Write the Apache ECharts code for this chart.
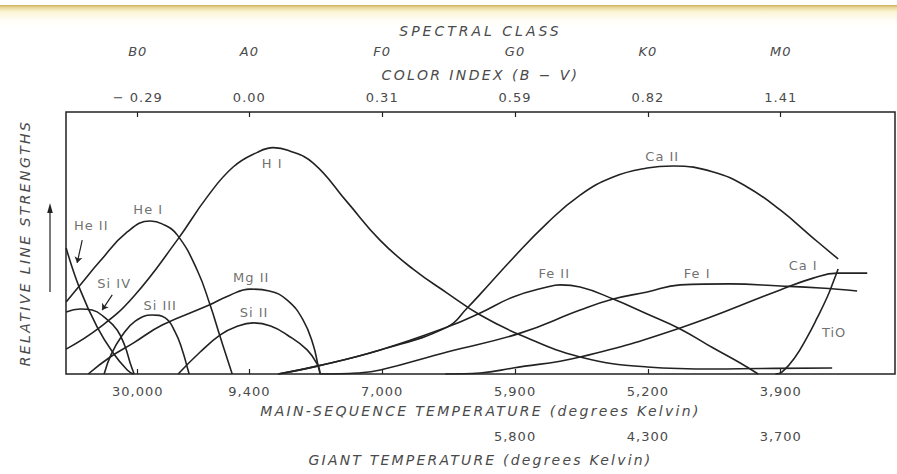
<!DOCTYPE html>
<html>
<head>
<meta charset="utf-8">
<script src="https://cdn.jsdelivr.net/npm/echarts@6/dist/echarts.min.js"></script>
<style>
  html, body { margin: 0; padding: 0; background: #fff; }
  #main { width: 897px; height: 474px; }
</style>
</head>
<body>
<div id="main"></div>
<script>
// Positions of the reference classes along the spectral sequence
const classPos = [11.6, 20, 30, 40, 50, 60];
const spectralClasses = ['B0', 'A0', 'F0', 'G0', 'K0', 'M0'];
const colorIndex = ['\u2212 0.29', '0.00', '0.31', '0.59', '0.82', '1.41'];
const mainSeqTemps = ['30,000', '9,400', '7,000', '5,900', '5,200', '3,900'];
const giantTemps = [null, null, null, '5,800', '4,300', '3,700'];

// Relative line strengths: [sequence position, strength]
const heII = [[6.21,48.1],[7.27,32.1],[8.55,17.9],[9.75,8.0],[10.81,1.5],[11.26,0]];
const heI = [[6.21,27.5],[7.27,34.0],[8.77,43.1],[10.81,54.2],[12.54,58.4],[13.44,57.3],[14.57,53.1],[16.07,39.7],[17.05,26.3],[17.81,14.1],[18.71,0]];
const hI = [[6.21,9.5],[8.77,17.9],[11.26,29.4],[14.57,51.1],[16.83,67.6],[18.78,79.0],[20.6,84.6],[21.8,86.4],[22.9,85.4],[24.81,80.5],[27.37,65.6],[29.85,51.0],[32.33,40.0],[34.89,30.9],[37.38,22.5],[40.39,14.9],[44.90,6.5],[49.95,2.7],[54.92,1.9],[58.45,2.1],[63.87,2.3]];
const siIV = [[6.21,23.7],[7.27,24.8],[8.17,24.4],[9.15,21.4],[10.05,16.8],[10.66,10.3],[11.03,4.2],[11.33,0]];
const siIII = [[9.07,0],[9.6,7.5],[10.4,14.5],[11.41,20.2],[12.69,22.5],[13.67,21.4],[14.42,16.0],[14.95,9.2],[15.32,2.7],[15.47,0]];
const mgII = [[7.87,0],[9.53,6.5],[11.26,11.8],[13.44,18.7],[16.98,26.3],[18.5,30.0],[20.06,32.4],[21.5,31.7],[22.85,28.2],[24.05,20.6],[24.81,11.1],[25.18,3.1],[25.33,0]];
const siII = [[14.64,0],[16.30,8.4],[17.81,14.9],[19.0,18.0],[20.29,19.5],[21.6,18.3],[22.85,14.9],[24.35,9.2],[25.18,3.1],[25.33,0]];
const caII = [[22.17,0],[25.18,3.1],[29.85,9.2],[34.89,17.9],[36.40,25.2],[37.38,30.5],[39.86,44.3],[42.42,57.6],[44.90,68.3],[47.39,75.2],[49.95,78.6],[51.90,79.4],[54.92,77.1],[57.47,71.4],[59.96,62.6],[62.44,51.9],[64.32,43.9]];
const feII = [[22.17,0],[25.18,3.1],[29.85,9.2],[34.89,17.9],[37.38,23.3],[39.86,29.4],[42.42,33.2],[43.40,34.0],[44.90,33.2],[47.39,28.6],[49.95,22.9],[52.43,17.2],[54.92,9.9],[56.95,4.2],[58.30,0]];
const feI = [[25.33,0],[28.12,0.4],[29.85,1.5],[34.89,8.4],[40.39,15.6],[44.90,24.4],[47.39,28.6],[49.95,31.3],[52.43,34.0],[56.19,34.4],[59.96,33.6],[62.97,32.8],[65.75,31.7]];
const caI = [[34.74,0],[37.38,0.4],[39.86,2.3],[44.90,6.5],[52.43,17.6],[59.96,32.1],[62.44,36.6],[64.25,38.5],[66.51,38.5]];
const tiO = [[59.6,0],[60.11,0.8],[61.09,6.5],[61.99,14.1],[62.74,21.4],[63.50,29.4],[63.95,35.1],[64.32,40.1]];

const curves = [
  ['He II', heII], ['He I', heI], ['H I', hI], ['Si IV', siIV], ['Si III', siIII],
  ['Mg II', mgII], ['Si II', siII], ['Ca II', caII], ['Fe II', feII],
  ['Fe I', feI], ['Ca I', caI], ['TiO', tiO]
];

// Where each curve's name is written, in axis units
const curveTags = [
  ['He II', 8.1, 56.5], ['He I', 12.39, 62.6], ['H I', 21.72, 80.5],
  ['Si IV', 9.83, 34.7], ['Si III', 13.29, 26.0], ['Mg II', 20.14, 37.0],
  ['Si II', 20.36, 23.3], ['Fe II', 42.95, 38.5], ['Ca II', 51.08, 83.2],
  ['Fe I', 53.71, 38.2], ['Ca I', 61.69, 41.6], ['TiO', 64.02, 16.0]
];
// Short pointers from a tag to its curve
const pointers = [
  [[7.42, 51.1], [7.04, 42.4]],
  [[9.68, 30.2], [8.92, 24.4]]
];

const INK = '#222222';
const TEXT = '#4a4a4a';
const FONT = 'DejaVu Sans';
const X_MIN = 6.2, X_MAX = 68.6;

function pick(labels) {
  return v => {
    const i = classPos.indexOf(v);
    return i >= 0 && labels[i] != null ? labels[i] : '';
  };
}

function xAxisRow(opts) {
  const vals = classPos.filter((v, i) => opts.labels[i] != null);
  return {
    type: 'value',
    min: X_MIN,
    max: X_MAX,
    position: opts.position,
    offset: opts.offset,
    axisLine: { show: false },
    splitLine: { show: false },
    axisTick: {
      show: !!opts.ticks,
      inside: true,
      length: 5,
      customValues: vals,
      lineStyle: { color: INK, width: 1.2 }
    },
    axisLabel: {
      customValues: vals,
      formatter: pick(opts.labels),
      margin: opts.margin,
      color: TEXT,
      fontFamily: FONT,
      fontSize: 13,
      fontStyle: opts.italic ? 'italic' : 'normal'
    },
    name: opts.name,
    nameLocation: 'middle',
    nameGap: opts.nameGap,
    nameTextStyle: {
      color: TEXT,
      fontFamily: FONT,
      fontSize: 14,
      fontStyle: 'italic'
    }
  };
}

const chart = echarts.init(document.getElementById('main'), null, { renderer: 'svg' });

const lineSeries = curves.map(([name, data]) => ({
  name: name,
  type: 'line',
  data: data,
  smooth: 0.45,
  showSymbol: false,
  silent: true,
  clip: true,
  lineStyle: { color: INK, width: 1.6 },
  z: 3
}));

chart.setOption({
  animation: false,
  backgroundColor: '#ffffff',
  grid: {
    left: 66, right: 2, top: 112, bottom: 100,
    show: true,
    borderColor: INK,
    borderWidth: 1.5,
    backgroundColor: 'transparent'
  },
  xAxis: [
    xAxisRow({ position: 'bottom', offset: 0, labels: mainSeqTemps, margin: 11, ticks: true,
      name: 'MAIN-SEQUENCE TEMPERATURE (degrees Kelvin)', nameGap: 30 }),
    xAxisRow({ position: 'bottom', offset: 45, labels: giantTemps, margin: 11,
      name: 'GIANT TEMPERATURE (degrees Kelvin)', nameGap: 34 }),
    xAxisRow({ position: 'top', offset: 0, labels: colorIndex, margin: 8, ticks: true,
      name: 'COLOR INDEX (B \u2212 V)', nameGap: 30 }),
    xAxisRow({ position: 'top', offset: 46, labels: spectralClasses, margin: 8, italic: true,
      name: 'SPECTRAL CLASS', nameGap: 28 })
  ],
  yAxis: {
    type: 'value',
    min: 0,
    max: 100,
    axisLine: { show: false },
    axisTick: { show: false },
    axisLabel: { show: false },
    splitLine: { show: false },
    name: 'RELATIVE LINE STRENGTHS',
    nameLocation: 'middle',
    nameGap: 34,
    nameTextStyle: { color: TEXT, fontFamily: FONT, fontSize: 14, fontStyle: 'italic' }
  },
  series: lineSeries.concat([
    {
      type: 'scatter',
      symbolSize: 0,
      silent: true,
      data: curveTags.map(([n, x, y]) => ({ name: n, value: [x, y] })),
      label: {
        show: true,
        position: 'inside',
        formatter: '{b}',
        color: TEXT,
        fontFamily: FONT,
        fontSize: 13
      },
      z: 4
    },
    {
      type: 'lines',
      coordinateSystem: 'cartesian2d',
      silent: true,
      symbol: ['none', 'arrow'],
      symbolSize: 6,
      lineStyle: { color: INK, width: 1.2, opacity: 1 },
      data: pointers.map(p => ({ coords: p })),
      z: 4
    }
  ]),
  graphic: [
    {
      type: 'rect',
      silent: true,
      shape: { x: 0, y: 5, width: 897, height: 22 },
      style: {
        fill: new echarts.graphic.LinearGradient(0, 0, 0, 1, [
          { offset: 0, color: '#c9ad58' },
          { offset: 0.1, color: '#e8d594' },
          { offset: 0.3, color: '#fbf4d4' },
          { offset: 0.7, color: '#fefdf7' },
          { offset: 1, color: '#ffffff' }
        ])
      },
      z: -1
    },
    {
      type: 'group',
      silent: true,
      children: [
        { type: 'line', shape: { x1: 50, y1: 292, x2: 50, y2: 210 },
          style: { stroke: INK, lineWidth: 1.2 } },
        { type: 'polygon', shape: { points: [[50, 203], [47.2, 213], [52.8, 213]] },
          style: { fill: INK } }
      ]
    }
  ]
});

// Spaced lettering for all chart text
const spacing = {
  'SPECTRAL CLASS': '3px',
  'COLOR INDEX (B \u2212 V)': '2.4px',
  'MAIN-SEQUENCE TEMPERATURE (degrees Kelvin)': '2.3px',
  'GIANT TEMPERATURE (degrees Kelvin)': '2.2px',
  'RELATIVE LINE STRENGTHS': '2.4px'
};
document.querySelectorAll('#main text').forEach(t => {
  t.style.letterSpacing = spacing[t.textContent] || '1px';
});
</script>
</body>
</html>
